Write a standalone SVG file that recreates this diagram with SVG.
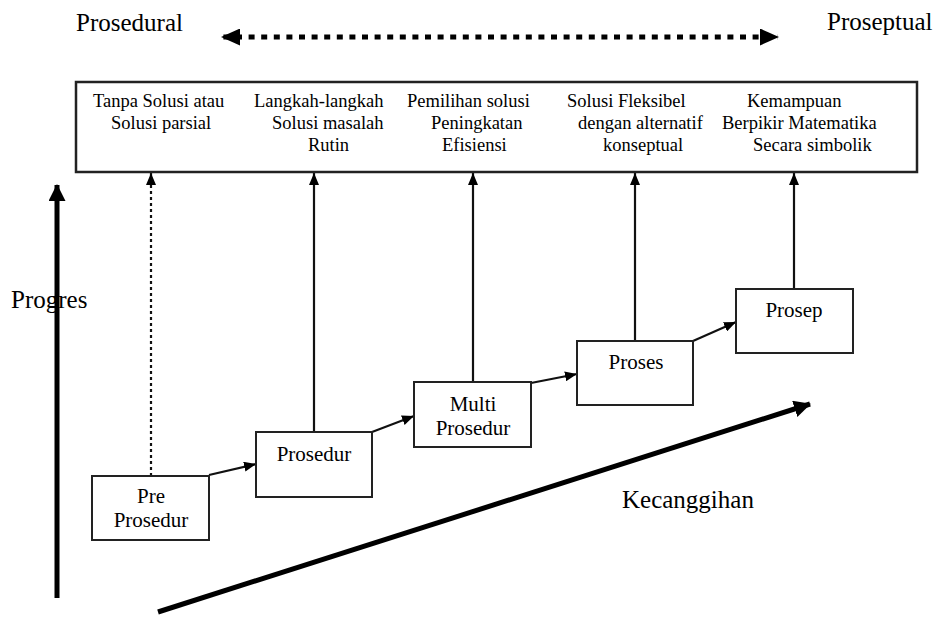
<svg xmlns="http://www.w3.org/2000/svg" width="938" height="617" viewBox="0 0 938 617">
<style>
  text { font-family: "Liberation Serif", "Times New Roman", serif; fill: #000; }
  .lbl { font-size: 25px; }
  .top { font-size: 18.5px; }
  .nd { font-size: 21px; text-anchor: middle; }
  .box { fill: #fff; stroke: #222; stroke-width: 2; }
  .conn { fill: none; stroke: #111; stroke-width: 2.2; }
</style>
<defs>
  <marker id="ah" markerUnits="userSpaceOnUse" markerWidth="12" markerHeight="10" refX="12" refY="5" orient="auto">
    <path d="M0,0 L12,5 L0,10 z" fill="#000"/>
  </marker>
  <marker id="big" markerUnits="userSpaceOnUse" markerWidth="17" markerHeight="17" refX="16" refY="8.5" orient="auto">
    <path d="M0,0 L17,8.5 L0,17 z" fill="#000"/>
  </marker>
  <marker id="dbl" markerUnits="userSpaceOnUse" markerWidth="19" markerHeight="17" refX="18" refY="8.5" orient="auto-start-reverse">
    <path d="M0,0 L19,8.5 L0,17 z" fill="#000"/>
  </marker>
</defs>

<text class="lbl" x="76" y="31">Prosedural</text>
<text class="lbl" x="827" y="30">Proseptual</text>
<text class="lbl" x="11" y="308">Progres</text>
<text class="lbl" x="622" y="508">Kecanggihan</text>

<g id="connectors">
  <line x1="222" y1="37" x2="778" y2="37" stroke="#000" stroke-width="5" stroke-dasharray="6 6.6" stroke-dashoffset="-14" marker-start="url(#dbl)" marker-end="url(#dbl)"/>
  <line x1="57" y1="598" x2="57" y2="185" stroke="#000" stroke-width="5" marker-end="url(#big)"/>
  <line x1="158" y1="612" x2="810" y2="404" stroke="#000" stroke-width="5" marker-end="url(#big)"/>
  <line class="conn" x1="151" y1="476" x2="151" y2="173" stroke-dasharray="3 3" marker-end="url(#ah)"/>
  <line class="conn" x1="314" y1="432" x2="314" y2="173" marker-end="url(#ah)"/>
  <line class="conn" x1="473" y1="382" x2="473" y2="173" marker-end="url(#ah)"/>
  <line class="conn" x1="635" y1="341" x2="635" y2="173" marker-end="url(#ah)"/>
  <line class="conn" x1="794" y1="289" x2="794" y2="173" marker-end="url(#ah)"/>
  <line class="conn" x1="209" y1="475" x2="256" y2="464" marker-end="url(#ah)"/>
  <line class="conn" x1="372" y1="432" x2="414" y2="416" marker-end="url(#ah)"/>
  <line class="conn" x1="531" y1="383" x2="577" y2="374" marker-end="url(#ah)"/>
  <line class="conn" x1="693" y1="341" x2="736" y2="322" marker-end="url(#ah)"/>
</g>

<g id="topbox">
  <rect x="76" y="82" width="841" height="90" fill="#fff" stroke="#222" stroke-width="2.5"/>
  <text class="top" x="93" y="107">Tanpa Solusi atau</text>
  <text class="top" x="111" y="129">Solusi parsial</text>
  <text class="top" x="254" y="107">Langkah-langkah</text>
  <text class="top" x="272" y="129">Solusi masalah</text>
  <text class="top" x="308" y="151">Rutin</text>
  <text class="top" x="407" y="107">Pemilihan solusi</text>
  <text class="top" x="431" y="129">Peningkatan</text>
  <text class="top" x="442" y="151">Efisiensi</text>
  <text class="top" x="567" y="107">Solusi Fleksibel</text>
  <text class="top" x="578" y="129">dengan alternatif</text>
  <text class="top" x="603" y="151">konseptual</text>
  <text class="top" x="747" y="107">Kemampuan</text>
  <text class="top" x="722" y="129">Berpikir Matematika</text>
  <text class="top" x="753" y="151">Secara simbolik</text>
</g>

<g id="pre-prosedur">
  <rect class="box" x="92" y="476" width="117" height="64"/>
  <text class="nd" x="151" y="503">Pre</text>
  <text class="nd" x="151" y="527">Prosedur</text>
</g>
<g id="prosedur">
  <rect class="box" x="256" y="432" width="116" height="65"/>
  <text class="nd" x="314" y="461">Prosedur</text>
</g>
<g id="multi-prosedur">
  <rect class="box" x="414" y="382" width="117" height="65"/>
  <text class="nd" x="473" y="411">Multi</text>
  <text class="nd" x="473" y="435">Prosedur</text>
</g>
<g id="proses">
  <rect class="box" x="577" y="341" width="116" height="64"/>
  <text class="nd" x="636" y="369">Proses</text>
</g>
<g id="prosep">
  <rect class="box" x="736" y="289" width="117" height="64"/>
  <text class="nd" x="794" y="317">Prosep</text>
</g>
</svg>
